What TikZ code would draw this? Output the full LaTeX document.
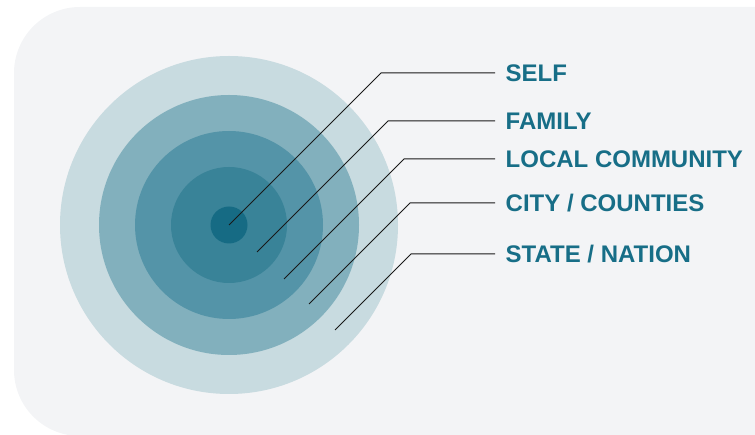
\documentclass[tikz,border=0pt]{standalone}
\usepackage{fontspec}
\setmainfont{Liberation Sans}
\usepackage{xcolor}
\usetikzlibrary{positioning}
\definecolor{panelgray}{HTML}{F3F4F6}
\definecolor{ringA}{HTML}{C8DBE0}
\definecolor{ringB}{HTML}{82B0BD}
\definecolor{ringC}{HTML}{5494A8}
\definecolor{ringD}{HTML}{398398}
\definecolor{ringE}{HTML}{166B84}
\definecolor{tagblue}{HTML}{176E87}

\begin{document}
\begin{tikzpicture}[
  x=1pt, y=-1pt,
  ring/.style={circle, inner sep=0pt, draw=none},
  leader/.style={line width=1pt, draw=black!90},
  tag/.style={anchor=west, inner xsep=10.5pt, inner ysep=0pt,
              text height=16.5pt, text depth=0pt, text=tagblue,
              font=\bfseries\fontsize{24}{28}\selectfont},
]
\useasboundingbox (0,0) rectangle (755,435);
\clip (0,0) rectangle (755,435);

% === Panel ===
\fill[panelgray, rounded corners=66pt] (14,7) rectangle (860,436);

% === Rings ===
\coordinate (hub) at (229,225);
\foreach \i/\d/\c in {1/338/ringA,2/260/ringB,3/188/ringC,4/116/ringD,5/37/ringE} {
  \node[ring, minimum size=\d pt, fill=\c] (ring\i) at (hub) {};
}

% === Labels ===
\node[tag] (self)   at (495,73)  {SELF};
\node[tag] (family) at (495,121) {FAMILY};
\node[tag] (local)  at (495,159) {LOCAL COMMUNITY};
\node[tag] (city)   at (495,203) {CITY / COUNTIES};
\node[tag] (state)  at (495,254) {STATE / NATION};

% === Leaders ===
\coordinate (s1) at (229,225); \coordinate (b1) at (381,73);
\coordinate (s2) at (257,252); \coordinate (b2) at (388,121);
\coordinate (s3) at (284,279); \coordinate (b3) at (404,159);
\coordinate (s4) at (309,304); \coordinate (b4) at (410,203);
\coordinate (s5) at (335,330); \coordinate (b5) at (411,254);

\draw[leader] (s1) -- (b1) -- (self.west);
\draw[leader] (s2) -- (b2) -- (family.west);
\draw[leader] (s3) -- (b3) -- (local.west);
\draw[leader] (s4) -- (b4) -- (city.west);
\draw[leader] (s5) -- (b5) -- (state.west);

\end{tikzpicture}
\end{document}
